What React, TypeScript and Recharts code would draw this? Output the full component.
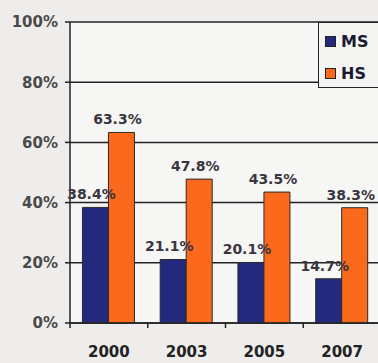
import { BarChart, Bar, XAxis, YAxis, CartesianGrid, Legend, LabelList } from "recharts"

const years = ["2000", "2003", "2005", "2007"]
const msValues = [38.4, 21.1, 20.1, 14.7]
const hsValues = [63.3, 47.8, 43.5, 38.3]
const yTicks = [0, 20, 40, 60, 80, 100]
const seriesNames = ["MS", "HS"]

const data = years.map((year, i) => ({ year, MS: msValues[i], HS: hsValues[i] }))

const FONT = "'DejaVu Sans', 'Liberation Sans', Arial, sans-serif"
const MS_COLOR = "#232a7e"
const HS_COLOR = "#fb6a1c"
const TICK_MARGIN = 20

function YearTick(props: any) {
  const { x, y, payload, width } = props
  const band = (width ?? 311) / years.length
  const axisY = y - TICK_MARGIN
  const left = x - band / 2
  return (
    <g>
      <line x1={left} x2={left} y1={axisY} y2={axisY + 5} stroke="#222" strokeWidth={1.5} />
      <text
        x={x}
        y={axisY + 29}
        textAnchor="middle"
        dominantBaseline="middle"
        fontFamily={FONT}
        fontWeight="bold"
        fontSize={15}
        fill="#222"
      >
        {payload.value}
      </text>
    </g>
  )
}

function LegendBox({ payload }: any) {
  const items = [...(payload ?? [])].sort(
    (a: any, b: any) => seriesNames.indexOf(a.value) - seriesNames.indexOf(b.value)
  )
  return (
    <div
      style={{
        width: 64,
        height: 66,
        border: "1.5px solid #222",
        background: "#f4f4f3",
        boxSizing: "border-box",
        paddingTop: 10,
        paddingLeft: 6,
      }}
    >
      {items.map((entry: any) => (
        <div
          key={entry.value}
          style={{ display: "flex", alignItems: "center", height: 32, marginTop: -8, marginBottom: 8 }}
        >
          <span
            style={{
              display: "inline-block",
              width: 11,
              height: 11,
              background: entry.color,
              border: "1px solid #222",
              boxSizing: "border-box",
              marginRight: 5,
            }}
          />
          <span style={{ fontFamily: FONT, fontWeight: "bold", fontSize: 16, color: "#1a1a30" }}>
            {entry.value}
          </span>
        </div>
      ))}
    </div>
  )
}

const labelStyle = { fontFamily: FONT, fontWeight: "bold", fontSize: 14, fill: "#3a3540" }
const fmt = (v: any) => `${Number(v).toFixed(1)}%`

export default function App() {
  return (
    <div
      style={{
        position: "fixed",
        left: 0,
        top: 0,
        width: 378,
        height: 363,
        overflow: "hidden",
        background: "#eeedeb",
      }}
    >
      <BarChart
        width={381}
        height={363}
        data={data}
        margin={{ top: 22, right: 0, bottom: 0, left: 0 }}
        barCategoryGap="16%"
        barGap={0}
      >
        <CartesianGrid vertical={false} stroke="#222" strokeWidth={1.5} fill="#f6f6f5" />
        <XAxis
          dataKey="year"
          height={40}
          axisLine={{ stroke: "#222", strokeWidth: 1.5 }}
          tickLine={false}
          tickSize={0}
          tickMargin={TICK_MARGIN}
          tick={<YearTick />}
        />
        <YAxis
          width={70}
          domain={[0, 100]}
          ticks={yTicks}
          interval={0}
          tickFormatter={(v) => `${v}%`}
          axisLine={{ stroke: "#222", strokeWidth: 1.5 }}
          tickLine={{ stroke: "#222", strokeWidth: 1.5 }}
          tickSize={5}
          tickMargin={7}
          tick={{ fontFamily: FONT, fontWeight: "bold", fontSize: 15, fill: "#4a4a4a" }}
        />
        <Legend
          layout="vertical"
          align="center"
          verticalAlign="middle"
          wrapperStyle={{ top: 22, left: 318, width: 64 }}
          content={<LegendBox />}
        />
        <Bar dataKey="MS" fill={MS_COLOR} stroke="#2a2a2a" strokeWidth={1} isAnimationActive={false}>
          <LabelList dataKey="MS" position="top" offset={8} dx={-4} formatter={fmt} style={labelStyle} />
        </Bar>
        <Bar dataKey="HS" fill={HS_COLOR} stroke="#2a2a2a" strokeWidth={1} isAnimationActive={false}>
          <LabelList dataKey="HS" position="top" offset={8} dx={-4} formatter={fmt} style={labelStyle} />
        </Bar>
      </BarChart>
    </div>
  )
}
